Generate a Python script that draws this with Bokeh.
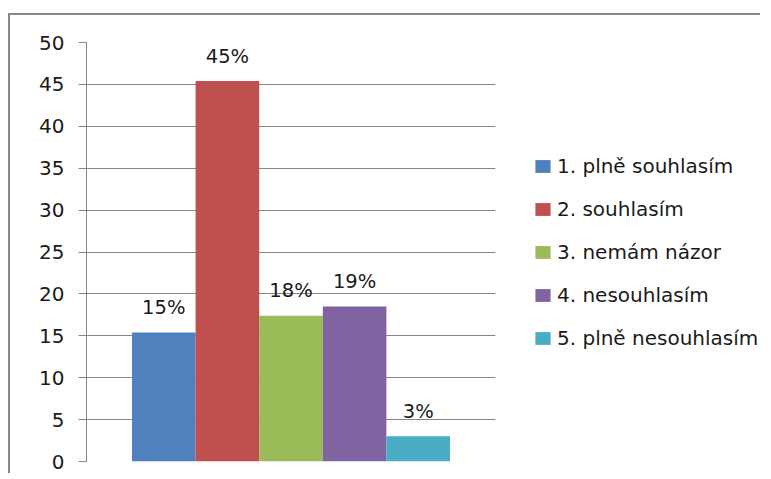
from bokeh.plotting import figure
from bokeh.models import ColumnDataSource, Legend, LegendItem, Range1d, FixedTicker
from bokeh.layouts import row
from bokeh.embed import file_html
from bokeh.resources import INLINE
from bokeh.core.properties import value

categories = ["1. plně souhlasím", "2. souhlasím", "3. nemám názor", "4. nesouhlasím", "5. plně nesouhlasím"]
values = [15.4, 45.4, 17.4, 18.5, 3.0]
labels = ["15%", "45%", "18%", "19%", "3%"]
colors = ["#4F81BD", "#C0504D", "#9BBB59", "#8064A2", "#4BACC6"]
y_ticks = [0, 5, 10, 15, 20, 25, 30, 35, 40, 45, 50]

FONT = "DejaVu Sans"
xs = list(range(len(categories)))
src = ColumnDataSource(dict(x=xs, top=values, color=colors, label=labels, cat=categories))

H = 458
p = figure(width=500, height=H, output_backend="svg", toolbar_location=None,
           x_range=Range1d(-1.215, 5.215), y_range=Range1d(0, 50),
           min_border_left=76, min_border_top=27, min_border_right=15, min_border_bottom=H - 446)
p.outline_line_color = None
p.xaxis.visible = False
p.xgrid.visible = False
p.ygrid.grid_line_color = "#868686"
p.ygrid.grid_line_width = 1
p.yaxis.ticker = FixedTicker(ticks=y_ticks)
p.yaxis.axis_line_color = "#868686"
p.yaxis.major_tick_line_color = "#868686"
p.yaxis.major_tick_out = 8
p.yaxis.major_tick_in = 0
p.yaxis.minor_tick_line_color = None
p.yaxis.major_label_text_font = FONT
p.yaxis.major_label_text_font_size = "20px"
p.yaxis.major_label_text_color = "#1a1a1a"
p.yaxis.major_label_standoff = 14

p.vbar(x="x", top="top", width=1.0, bottom=0, fill_color="color", line_color=None, source=src)

p.text(x="x", y="top", text="label", source=src, text_font=value(FONT), text_font_size="19.5px",
       text_color="#1a1a1a", text_align="center", text_baseline="alphabetic", y_offset=-25)

# legend panel (dummy renderers kept outside the visible range, used only for legend swatches)
p2 = figure(width=250, height=H, output_backend="svg", toolbar_location=None,
            x_range=Range1d(0, 1), y_range=Range1d(0, 1),
            min_border_left=0, min_border_top=0, min_border_right=0, min_border_bottom=0)
p2.outline_line_color = None
p2.axis.visible = False
p2.grid.visible = False
leg_renderers = [p2.vbar(x=[-10], top=[-10], width=1, fill_color=c, line_color=None) for c in colors]
legend = Legend(items=[LegendItem(label=categories[i], renderers=[leg_renderers[i]]) for i in xs],
                location=(23, 111), orientation="vertical")
legend.label_text_font = FONT
legend.label_text_font_size = "20px"
legend.label_text_color = "#1a1a1a"
legend.glyph_width = 19
legend.glyph_height = 16
legend.label_height = 20
legend.label_standoff = 5
legend.spacing = 19
legend.padding = 0
legend.margin = 0
legend.border_line_color = None
legend.background_fill_alpha = 0
p2.add_layout(legend, "center")

layout = row(p, p2)
layout.styles = {"margin-top": "13px", "margin-left": "8px",
                 "border-top": "2px solid #868686", "border-left": "2px solid #868686"}

open("out.html", "w").write(file_html(layout, INLINE))
